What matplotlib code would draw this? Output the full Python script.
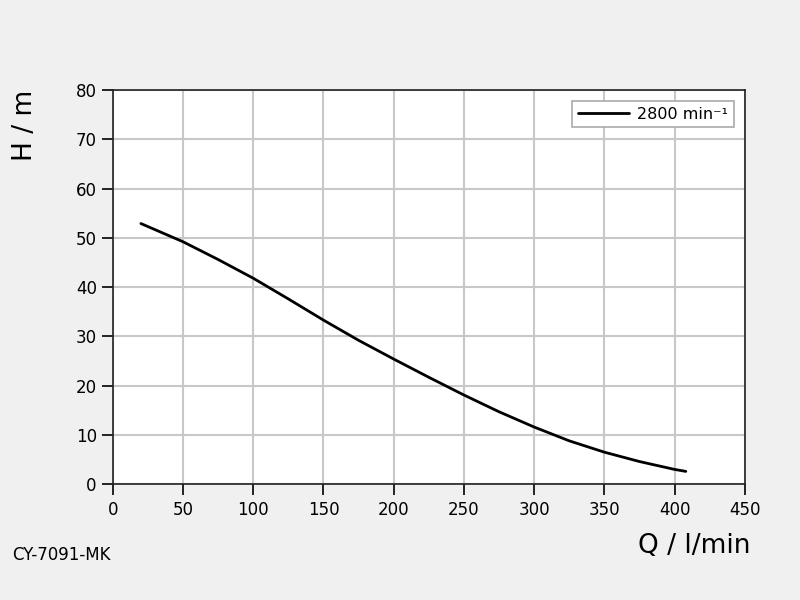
import matplotlib
matplotlib.use("Agg")
import matplotlib.pyplot as plt

# pump curve
flow = [20, 50, 75, 100, 125, 150, 175, 200, 225, 250, 275, 300, 325, 350, 375, 400, 408]
head = [52.9, 49.2, 45.6, 41.8, 37.6, 33.3, 29.2, 25.4, 21.7, 18.1, 14.7, 11.6, 8.8, 6.5, 4.6, 3.0, 2.6]
series_label = "2800 min\u207b\u00b9"
x_ticks = [0, 50, 100, 150, 200, 250, 300, 350, 400, 450]
y_ticks = [0, 10, 20, 30, 40, 50, 60, 70, 80]

plt.rcParams["font.family"] = ["DejaVu Sans"]

fig = plt.figure(figsize=(8, 6), dpi=100, facecolor="#f0f0f0")
ax = fig.add_axes([0.141, 0.193, 0.790, 0.657])
ax.set_facecolor("white")

ax.plot(flow, head, color="black", lw=2, label=series_label,
        solid_joinstyle="round", solid_capstyle="round")

ax.set_xlim(0, 450)
ax.set_ylim(0, 80)
ax.set_xticks(x_ticks)
ax.set_yticks(y_ticks)
ax.grid(True, color="#c8c8c8", lw=1.5)
ax.set_axisbelow(True)
ax.tick_params(direction="out", length=8, width=1.2, labelsize=12, colors="black")
ax.tick_params(axis="x", pad=4)
for s in ax.spines.values():
    s.set_color("#222222")
    s.set_linewidth(1.2)

leg = ax.legend(loc="upper right", fontsize=11.5, fancybox=False, framealpha=1,
                edgecolor="#aaaaaa", handlelength=3.2, handletextpad=0.5,
                borderpad=0.35, borderaxespad=0.7)
leg.get_frame().set_linewidth(1.2)

fig.text(0.015, 0.85, "H / m", rotation=90, fontsize=19, ha="left", va="top")
fig.text(0.938, 0.09, "Q / l/min", fontsize=19, ha="right", va="center")
fig.text(0.015, 0.075, "CY-7091-MK", fontsize=12, ha="left", va="center")

fig.savefig("out.png", dpi=100, facecolor=fig.get_facecolor())
